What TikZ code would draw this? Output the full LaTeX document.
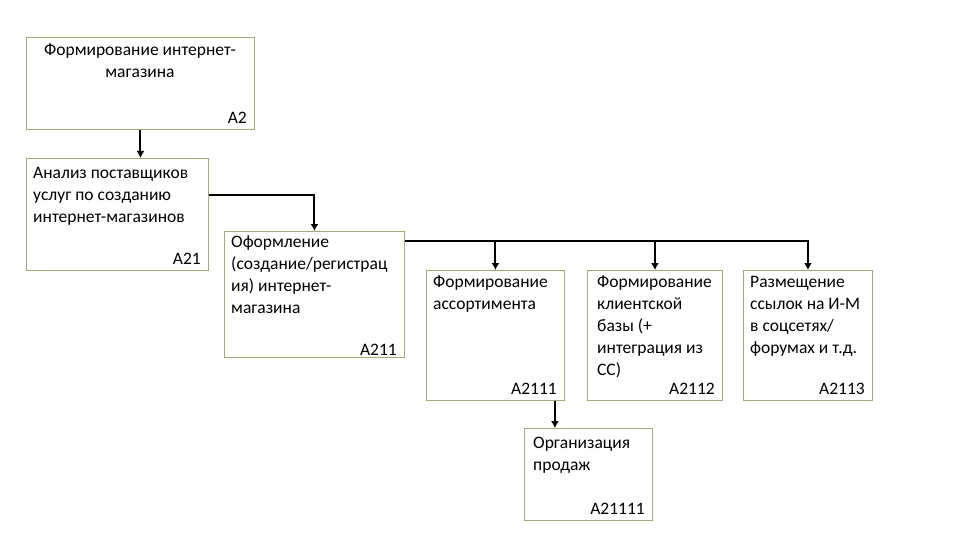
\documentclass[tikz,border=0pt]{standalone}
\usepackage{fontspec}
\setmainfont{Carlito}
\usetikzlibrary{arrows.meta,calc}
\definecolor{boxline}{RGB}{155,175,115}
\begin{document}
\begin{tikzpicture}[x=1pt,y=-1pt,
  box/.style={draw=boxline,line width=0.9pt,rectangle,anchor=north west,inner sep=0pt},
  txt/.style={anchor=north west,align=left,inner sep=0pt,font=\fontsize{17.5}{22}\selectfont},
  idl/.style={anchor=south east,inner sep=0pt,font=\fontsize{17.5}{20}\selectfont},
  conn/.style={line width=2pt,-{Latex[length=7pt,width=8pt]}}]
\useasboundingbox (0,0) rectangle (960,540);
% boxes
\node[box,minimum width=228pt,minimum height=92pt] (a2) at (26,37) {};
\node[box,minimum width=182pt,minimum height=112pt] (a21) at (26,158) {};
\node[box,minimum width=180pt,minimum height=126pt] (a211) at (224,231) {};
\node[box,minimum width=138pt,minimum height=130pt] (a2111) at (426,270) {};
\node[box,minimum width=135pt,minimum height=130pt] (a2112) at (587,270) {};
\node[box,minimum width=129pt,minimum height=130pt] (a2113) at (743,270) {};
\node[box,minimum width=128pt,minimum height=92pt] (a21111) at (524,428) {};
% texts
\node[anchor=north,align=center,inner sep=0pt,font=\fontsize{17.5}{22}\selectfont] (t2) at (140,44) {Формирование интернет-\\магазина};
\node[txt] (t21) at (33,167) {Анализ поставщиков\\услуг по созданию\\интернет-магазинов};
\node[txt] (t211) at (231,235) {Оформление\\(создание/регистрац\\ия) интернет-\\магазина};
\node[txt] (t2111) at (433,276) {Формирование\\ассортимента};
\node[txt] (t2112) at (597,276) {Формирование\\клиентской\\базы (+\\интеграция из\\СС)};
\node[txt] (t2113) at (750,276) {Размещение\\ссылок на И-М\\в соцсетях/\\форумах и т.д.};
\node[txt] (t21111) at (533,437) {Организация\\продаж};
% ids
\node[idl] (i2) at (247,124) {A2};
\node[idl] (i21) at (201,265) {A21};
\node[idl] (i211) at (397,356) {A211};
\node[idl] (i2111) at (557,395) {A2111};
\node[idl] (i2112) at (715,395) {A2112};
\node[idl] (i2113) at (865,395) {A2113};
\node[idl] (i21111) at (645,515) {A21111};
% connectors
\draw[conn] (a2.south) -- (a2.south |- a21.north);
\draw[conn] ($(a21.north east)+(0,37)$) -| (a211.north);
\coordinate (bus) at ($(a211.north east)+(0,10)$);
\draw[conn] (bus) -| (a2113.north);
\draw[conn] (bus -| a2111.north) -- (a2111.north);
\draw[conn] (bus -| a2112.north) -- (a2112.north);
\coordinate (down) at ($(a2111.south east)+(-10,0)$);
\draw[conn] (down) -- (down |- a21111.north);
\end{tikzpicture}
\end{document}
